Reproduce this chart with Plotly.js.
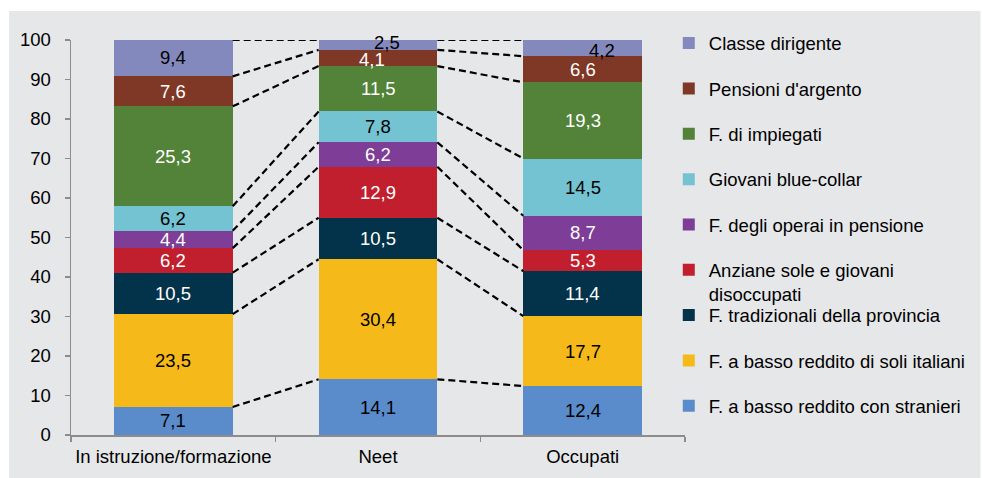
<!DOCTYPE html>
<html>
<head>
<meta charset="utf-8">
<script src="https://cdn.plot.ly/plotly-3.0.1.min.js"></script>
<style>html,body{margin:0;padding:0;background:#fff;}#chart{width:982px;height:478px;}</style>
</head>
<body>
<div id="chart"></div>
<script>
// Categories (x axis)
const categories = ["In istruzione/formazione", "Neet", "Occupati"];

// Series, stacked bottom -> top
const seriesNames = [
  "F. a basso reddito con stranieri",
  "F. a basso reddito di soli italiani",
  "F. tradizionali della provincia",
  "Anziane sole e giovani<br>disoccupati",
  "F. degli operai in pensione",
  "Giovani blue-collar",
  "F. di impiegati",
  "Pensioni d'argento",
  "Classe dirigente"
];
const stranieri   = [7.1, 14.1, 12.4];
const italiani    = [23.5, 30.4, 17.7];
const tradizionali= [10.5, 10.5, 11.4];
const anziane     = [6.2, 12.9, 5.3];
const operai      = [4.4, 6.2, 8.7];
const blueCollar  = [6.2, 7.8, 14.5];
const impiegati   = [25.3, 11.5, 19.3];
const pensioni    = [7.6, 4.1, 6.6];
const dirigente   = [9.4, 2.5, 4.2];
const seriesValues = [stranieri, italiani, tradizionali, anziane, operai, blueCollar, impiegati, pensioni, dirigente];

const colors = ["#5a8bcb", "#f6b91a", "#03334a", "#c11f2d", "#7e3d97", "#74c3d3", "#538239", "#7f3826", "#8489bd"];
const labelColors = ["#000", "#000", "#fff", "#fff", "#fff", "#000", "#fff", "#fff", "#000"];
// small label nudges [series-category] in px
const labelShift = {"8-1": [9, 2], "7-1": [-6, -2], "8-2": [19, -3]};

const barWidth = 0.58;
const fontFam = "Liberation Sans, Arial, sans-serif";
const fs = 18.5;

const traces = [];
const annotations = [];
const cum = [0, 0, 0];
const tops = [];
seriesValues.forEach((vals, s) => {
  const legendId = s >= 3 ? "legend" : "legend2";
  traces.push({
    type: "bar", x: categories, y: vals, name: seriesNames[s],
    marker: {color: colors[s], line: {width: 0}},
    width: barWidth, legend: legendId, legendgroup: "g" + s,
    legendrank: 100 - s,
    hoverinfo: "name+y", cliponaxis: false
  });
  const t = [];
  vals.forEach((v, c) => {
    const sh = labelShift[s + "-" + c] || [0, 0];
    annotations.push({
      x: c, y: cum[c] + v / 2, xref: "x", yref: "y",
      text: v.toFixed(1).replace(".", ","), showarrow: false,
      xshift: sh[0], yshift: sh[1],
      font: {family: fontFam, size: fs, color: labelColors[s]}
    });
    cum[c] += v;
    t.push(cum[c]);
  });
  tops.push(t);
});

// Dashed connector lines between segment tops
const cx = [], cy = [];
tops.forEach((t) => {
  const tt = t.map(v => Math.min(v, 100));
  for (let c = 0; c < 2; c++) {
    cx.push(c + barWidth / 2, c + 1 - barWidth / 2, null);
    cy.push(tt[c], tt[c + 1], null);
  }
});
traces.push({
  type: "scatter", mode: "lines", x: cx, y: cy, xaxis: "x2", yaxis: "y",
  line: {color: "#000", width: 2.2, dash: "7px,4px"},
  showlegend: false, hoverinfo: "skip", connectgaps: false
});

const axisGray = "#8c8c8c";
const legendCommon = {
  xanchor: "left", yanchor: "top", maxheight: 460,
  traceorder: "grouped", tracegroupgap: 18.3, valign: "top",
  bgcolor: "rgba(0,0,0,0)", borderwidth: 0,
  font: {family: fontFam, size: fs, color: "#000"}
};
const layout = {
  width: 982, height: 478,
  margin: {l: 71, r: 296, t: 40, b: 43},
  paper_bgcolor: "#ffffff", plot_bgcolor: "rgba(0,0,0,0)",
  barmode: "stack",
  font: {family: fontFam, size: fs, color: "#000"},
  xaxis: {
    type: "category", range: [-0.5, 2.5], tickson: "boundaries",
    ticks: "outside", ticklen: 5, tickcolor: axisGray, tickwidth: 1.5,
    showline: true, linecolor: axisGray, linewidth: 1.5,
    showgrid: false, zeroline: false, fixedrange: true,
    tickangle: 0, automargin: false, ticklabelstandoff: 4,
    tickfont: {family: fontFam, size: fs, color: "#000"}
  },
  xaxis2: {overlaying: "x", range: [-0.5, 2.5], visible: false, fixedrange: true},
  yaxis: {
    range: [0, 100], tickvals: [0,10,20,30,40,50,60,70,80,90,100],
    ticks: "outside", ticklen: 5, tickcolor: axisGray, tickwidth: 1.5,
    showline: true, linecolor: axisGray, linewidth: 1.5,
    showgrid: false, zeroline: false, fixedrange: true,
    automargin: false, ticklabelstandoff: 10,
    tickfont: {family: fontFam, size: fs, color: "#000"}
  },
  legend: Object.assign({x: 0.972, y: 1.039}, legendCommon),
  legend2: Object.assign({x: 0.972, y: 0.3506}, legendCommon),
  shapes: [{
    type: "rect", xref: "paper", yref: "paper", layer: "below",
    x0: -0.1008, x1: 1.4813, y0: -0.1089, y1: 1.0734,
    fillcolor: "#e6e7e9", line: {width: 0}
  }],
  annotations: annotations,
  showlegend: true
};

Plotly.newPlot("chart", traces, layout, {displayModeBar: false, staticPlot: true});
</script>
</body>
</html>
